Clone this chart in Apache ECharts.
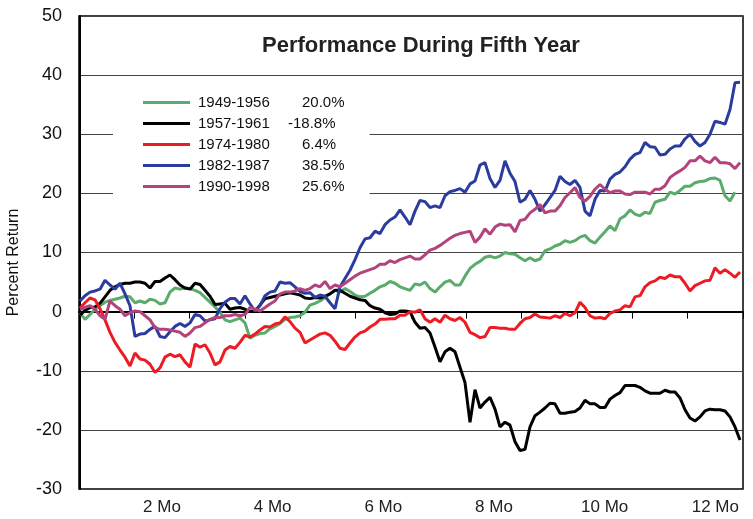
<!DOCTYPE html>
<html>
<head>
<meta charset="utf-8">
<script src="https://cdn.jsdelivr.net/npm/echarts/dist/echarts.min.js"></script>
<style>
    html, body { margin: 0; padding: 0; background: #fff; }
    #perfChart { width: 753px; height: 519px; }
</style>
</head>
<body>
<div id="perfChart"></div>
<script>
// month bands on the x axis (label shown on every second month)
var monthLabels = ['', '2 Mo', '', '4 Mo', '', '6 Mo', '', '8 Mo', '', '10 Mo', '', '12 Mo'];

var periods = ['1949-1956', '1957-1961', '1974-1980', '1982-1987', '1990-1998'];
var periodReturns = ['20.0%', '-18.8%', '6.4%', '38.5%', '25.6%'];

// percent return, sampled about every 2.5 trading days
var ret4956 = [-0.2, -1.3, -0.5, 0.4, 1.0, 1.6, 1.9, 2.1, 2.3, 2.6, 2.5, 1.5, 1.8, 1.5, 2.1, 1.9, 1.3, 1.5, 3.3, 4.0,
    3.8, 4.0, 3.9, 3.6, 3.2, 2.4, 1.6, 0.8, -0.1, -1.4, -1.7, -1.4, -1.1, -1.9, -4.5, -4.0, -3.7, -3.6, -2.9, -2.5,
    -2.0, -1.3, -1.0, -0.9, -0.7, -0.1, 1.1, 1.4, 1.8, 2.4, 3.0, 3.6, 3.3, 3.9, 3.4, 2.8, 2.5, 2.6, 3.1, 3.6,
    4.2, 4.5, 5.1, 4.8, 4.2, 3.9, 3.6, 4.7, 4.5, 5.0, 3.9, 3.3, 4.2, 5.0, 5.3, 4.5, 4.5, 6.0, 7.3, 8.0,
    8.5, 9.2, 9.4, 9.1, 9.4, 10.0, 9.8, 9.7, 9.1, 8.6, 9.1, 8.6, 8.9, 10.3, 10.6, 11.1, 11.4, 12.0, 11.7, 12.0,
    12.6, 12.9, 12.0, 11.6, 12.6, 13.5, 14.5, 13.7, 15.7, 16.2, 17.2, 16.5, 16.2, 16.8, 16.6, 18.5, 18.8, 19.0, 20.2, 19.9,
    20.5, 21.2, 21.2, 21.8, 22.0, 22.1, 22.5, 22.6, 22.2, 19.6, 18.7, 20.2, null];
var ret5761 = [-0.6, 0.2, 0.7, 0.8, 1.4, 2.5, 3.6, 4.2, 4.6, 4.8, 4.8, 5.0, 5.0, 4.8, 4.0, 5.1, 5.1, 5.7, 6.2, 5.4,
    4.5, 4.0, 3.8, 4.8, 4.6, 3.6, 2.6, 1.2, 1.3, 1.4, 0.4, 0.6, 0.7, 0.4, 0.0, 0.1, 1.1, 2.2, 2.4, 2.6,
    2.8, 3.0, 3.2, 3.0, 2.8, 2.3, 2.2, 2.4, 2.3, 2.6, 3.0, 3.6, 3.6, 3.1, 2.6, 2.3, 2.0, 1.9, 1.0, 0.6,
    0.4, -0.2, -0.5, -0.4, 0.1, 0.1, 0.0, -1.8, -2.8, -2.7, -3.6, -6.0, -8.5, -6.8, -6.2, -6.8, -9.4, -12.0, -18.7, -13.2,
    -16.3, -15.3, -14.5, -16.5, -19.5, -18.7, -19.2, -22.0, -23.5, -23.3, -19.5, -17.6, -17.0, -16.3, -15.5, -15.6, -17.2, -17.2, -17.0, -16.9,
    -16.3, -15.0, -15.6, -15.6, -16.2, -16.2, -14.8, -14.2, -13.7, -12.5, -12.5, -12.5, -12.8, -13.4, -13.8, -13.8, -13.8, -13.3, -13.6, -13.6,
    -14.6, -16.6, -18.0, -18.5, -17.8, -16.8, -16.5, -16.6, -16.6, -16.8, -17.8, -19.5, -21.7];
var ret7480 = [0.6, 1.5, 2.3, 2.0, 0.5, -1.4, -3.5, -5.2, -6.5, -7.7, -9.2, -7.0, -8.0, -8.2, -8.9, -10.3, -9.5, -7.7, -7.2, -7.6,
    -7.3, -8.5, -9.4, -5.5, -6.0, -5.6, -7.0, -9.0, -8.5, -6.5, -5.9, -6.2, -5.2, -4.0, -4.3, -3.8, -3.1, -2.5, -2.6, -2.1,
    -1.9, -0.9, -1.7, -2.8, -3.5, -5.3, -4.8, -4.3, -3.8, -3.6, -4.0, -5.0, -6.2, -6.4, -5.3, -4.3, -3.6, -3.3, -2.6, -2.1,
    -1.3, -1.3, -1.2, -1.2, -0.6, -0.6, 0.0, -0.1, 0.3, -1.2, -1.8, -1.2, -1.8, -0.6, -1.2, -1.5, -1.0, -1.8, -3.5, -3.9,
    -4.4, -4.2, -2.7, -2.7, -2.8, -2.8, -3.0, -3.0, -2.0, -1.2, -1.0, -0.4, -0.9, -1.0, -1.1, -0.7, -1.0, -0.3, -0.7, -0.2,
    1.6, 0.7, -0.7, -1.1, -1.0, -1.2, -0.3, 0.1, 0.3, 1.0, 0.8, 2.5, 2.7, 4.2, 4.9, 5.2, 5.8, 5.6, 6.2, 5.9,
    5.9, 4.8, 3.5, 4.4, 4.8, 5.2, 5.3, 7.4, 6.5, 7.1, 6.5, 5.8, 6.7];
var ret8287 = [1.8, 2.7, 3.3, 3.5, 3.8, 5.3, 4.5, 3.8, 4.8, 3.0, 1.0, -4.2, -3.8, -3.7, -3.0, -2.5, -4.2, -4.4, -3.4, -2.5,
    -2.0, -2.5, -1.9, -0.5, -0.7, -1.6, -1.4, -1.2, 0.5, 1.6, 2.2, 2.2, 1.3, 2.7, 1.3, 0.1, 1.0, 2.7, 3.3, 3.5,
    5.0, 4.8, 4.9, 4.2, 3.4, 3.1, 3.2, 2.4, 2.8, 2.6, 1.5, 0.5, 4.2, 5.6, 7.0, 8.8, 10.8, 12.3, 12.5, 13.6,
    13.2, 14.7, 15.5, 16.0, 17.2, 16.0, 14.7, 17.0, 18.8, 18.6, 17.6, 17.9, 17.6, 19.6, 20.3, 20.5, 20.8, 20.2, 21.6, 22.1,
    24.8, 25.2, 22.5, 21.0, 22.2, 25.5, 23.4, 22.0, 18.5, 19.0, 20.5, 19.0, 17.0, 18.1, 19.3, 20.5, 22.9, 22.0, 21.5, 22.2,
    21.0, 17.0, 16.2, 19.0, 20.5, 20.4, 22.4, 23.2, 23.6, 24.5, 25.8, 26.6, 26.9, 28.6, 27.9, 27.8, 26.5, 26.6, 27.5, 28.0,
    28.0, 29.2, 30.0, 28.8, 28.0, 28.6, 30.0, 32.2, 32.0, 31.7, 34.2, 38.7, 38.8];
var ret9098 = [0.4, 0.7, 1.0, 0.4, -0.7, -1.3, 1.8, 1.0, 0.4, -0.7, -0.2, 0.1, 0.0, -0.7, -1.4, -2.7, -3.0, -3.0, -3.1, -3.3,
    -3.5, -4.2, -3.6, -2.7, -2.5, -1.9, -1.3, -1.0, -1.0, -0.7, -0.7, -0.5, -0.7, -0.5, 0.7, 0.4, 0.1, 0.7, 1.3, 1.8,
    3.0, 3.3, 3.3, 3.5, 3.9, 3.6, 3.9, 4.5, 4.2, 5.1, 3.9, 4.5, 4.2, 4.8, 5.4, 6.0, 6.5, 6.8, 7.1, 7.4,
    8.0, 8.0, 8.6, 8.3, 8.8, 9.1, 9.4, 8.9, 8.9, 9.6, 10.4, 10.7, 11.2, 11.8, 12.4, 12.9, 13.2, 13.4, 13.6, 11.7,
    12.6, 14.0, 13.1, 14.3, 14.8, 14.6, 14.7, 13.5, 15.4, 15.6, 16.7, 17.3, 18.1, 16.7, 17.0, 17.0, 17.9, 19.3, 20.1, 21.0,
    19.3, 18.7, 19.5, 20.7, 21.5, 20.7, 20.1, 20.4, 20.4, 19.9, 19.8, 20.2, 20.2, 20.2, 19.9, 20.7, 20.7, 21.3, 22.7, 23.3,
    23.8, 24.4, 25.5, 25.5, 26.3, 25.5, 25.2, 26.1, 25.2, 25.2, 25.0, 24.2, 25.2];

var allReturns = [ret4956, ret5761, ret7480, ret8287, ret9098];
var lineColors = ['#5aab6c', '#000000', '#ed1c24', '#2a3d9e', '#b3437b'];

var perfChart = echarts.init(document.getElementById('perfChart'));

var series = periods.map(function (name, k) {
    return {
        name: name,
        type: 'line',
        xAxisIndex: 1,
        symbol: 'none',
        animation: false,
        lineStyle: { width: 3, color: lineColors[k] },
        itemStyle: { color: lineColors[k] },
        data: allReturns[k].map(function (v, i) { return [i, v]; })
    };
});

perfChart.setOption({
    backgroundColor: '#fff',
    title: {
        text: 'Performance During Fifth Year',
        left: 416,
        top: 30,
        textAlign: 'center',
        textStyle: {
            fontFamily: 'Liberation Sans, Arial, sans-serif',
            fontSize: 22,
            fontWeight: 'bold',
            color: '#222'
        }
    },
    legend: {
        data: periods,
        orient: 'vertical',
        left: 113,
        top: 87,
        padding: [8, 25, 8, 30],
        backgroundColor: '#fff',
        icon: 'rect',
        itemWidth: 47,
        itemHeight: 3,
        itemGap: 6,
        z: 10,
        formatter: function (name) {
            var r = periodReturns[periods.indexOf(name)];
            return '{n|' + name + '}' + (r.charAt(0) === '-' ? '{m|' : '{p|') + r + '}';
        },
        textStyle: {
            fontFamily: 'Liberation Sans, Arial, sans-serif',
            fontSize: 15,
            color: '#111',
            lineHeight: 14,
            padding: [0, 0, 0, 3],
            rich: {
                n: { width: 104, fontSize: 15, lineHeight: 14, color: '#111' },
                p: { fontSize: 15, lineHeight: 14, color: '#111' },
                m: { fontSize: 15, lineHeight: 14, color: '#111', padding: [0, 0, 0, -14] }
            }
        }
    },
    grid: {
        left: 79,
        right: 10,
        top: 16,
        bottom: 30,
        show: true,
        borderColor: '#000',
        borderWidth: 1.5,
        outerBoundsMode: 'none'
    },
    xAxis: [{
        type: 'category',
        data: monthLabels,
        boundaryGap: true,
        axisLine: { lineStyle: { color: '#000', width: 2 } },
        axisTick: { show: true, interval: 0, length: 7, lineStyle: { color: '#000', width: 1 } },
        axisLabel: {
            interval: 0,
            margin: 10,
            fontFamily: 'Liberation Sans, Arial, sans-serif',
            fontSize: 17,
            color: '#222'
        },
        splitLine: { show: false }
    }, {
        type: 'value',
        min: -0.2,
        max: 132.6,
        show: false,
        splitLine: { show: false }
    }],
    yAxis: {
        type: 'value',
        min: -30,
        max: 50,
        interval: 10,
        name: 'Percent Return',
        nameLocation: 'middle',
        nameGap: 57,
        nameRotate: 90,
        nameTextStyle: {
            fontFamily: 'Liberation Sans, Arial, sans-serif',
            fontSize: 16,
            color: '#111',
            padding: [0, 20, 0, 0]
        },
        axisLine: { show: true, lineStyle: { color: '#000', width: 2 } },
        axisTick: { show: false },
        axisLabel: {
            margin: 17,
            fontFamily: 'Liberation Sans, Arial, sans-serif',
            fontSize: 18,
            color: '#111'
        },
        splitLine: { show: true, lineStyle: { color: '#444', width: 1 } }
    },
    series: series
});
</script>
</body>
</html>
